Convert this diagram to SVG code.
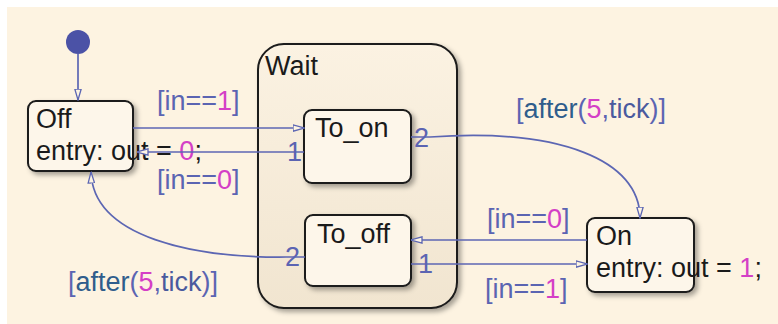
<svg xmlns="http://www.w3.org/2000/svg" width="778" height="324" viewBox="0 0 778 324">
  <defs>
    <filter id="sh" x="-20%" y="-20%" width="150%" height="150%">
      <feDropShadow dx="3" dy="3" stdDeviation="2.5" flood-color="#000" flood-opacity="0.35"/>
    </filter>
    <linearGradient id="waitg" x1="0" y1="0" x2="0" y2="1">
      <stop offset="0" stop-color="#fbf2e2"/>
      <stop offset="1" stop-color="#f1e5d0"/>
    </linearGradient>
    <marker id="ah" viewBox="0 0 12 8" refX="11.5" refY="4" markerWidth="12" markerHeight="8" markerUnits="userSpaceOnUse" orient="auto">
      <path d="M0.5,0.8 L11.5,4 L0.5,7.2 Z" fill="#fdf4e3" stroke="#5c66b3" stroke-width="1.3"/>
    </marker>
    <style>
      text { font-family: "Liberation Sans", Arial, sans-serif; font-size: 27px; }
      .st { fill: #1a1a1a; }
      .box { fill: #fdf6ea; stroke: #1a1a1a; stroke-width: 2; filter: url(#sh); }
      .wait { fill: url(#waitg); stroke: #1a1a1a; stroke-width: 2; filter: url(#sh); }
      .ln { fill: none; stroke: #5c66b3; stroke-width: 1.7; }
      .lb { fill: #5b64b2; }
      .kw { fill: #2f5d8c; }
      .tk { fill: #4a5a9e; }
      .num { fill: #d43fc6; }
    </style>
  </defs>
  <rect x="7" y="7" width="771" height="317" fill="#fdf3e1"/>

  <g id="Wait">
    <rect class="wait" x="258" y="44" width="199" height="264" rx="26" ry="26"/>
    <text class="st" x="265" y="75">Wait</text>
  </g>
  <g id="Off">
    <rect class="box" x="28" y="101" width="105" height="70" rx="8" ry="8"/>
    <text class="st" x="36" y="128">Off</text>
    <text class="st" x="36" y="160">entry: out = <tspan class="num">0</tspan>;</text>
  </g>
  <g id="To_on">
    <rect class="box" x="304" y="110" width="107" height="73" rx="8" ry="8"/>
    <text class="st" x="315" y="137">To_on</text>
  </g>
  <g id="To_off">
    <rect class="box" x="305" y="215" width="106" height="71" rx="8" ry="8"/>
    <text class="st" x="317" y="243">To_off</text>
  </g>
  <g id="On">
    <rect class="box" x="587" y="218" width="107" height="74" rx="8" ry="8"/>
    <text class="st" x="596" y="245">On</text>
    <text class="st" x="596" y="277">entry: out = <tspan class="num">1</tspan>;</text>
  </g>
  <g id="init">
    <circle cx="78" cy="42" r="12" fill="#4b52a6"/>
  </g>

  <g id="connectors">
    <path class="ln" d="M78,54 L78,100" marker-end="url(#ah)"/>
    <path class="ln" d="M133,128 L304,128" marker-end="url(#ah)"/>
    <path class="ln" d="M304,152 L137,152" marker-end="url(#ah)"/>
    <path class="ln" d="M411,137 L430,137 C560,128 640,160 640,218" marker-end="url(#ah)"/>
    <path class="ln" d="M587,240 L411,240" marker-end="url(#ah)"/>
    <path class="ln" d="M411,264 L587,264" marker-end="url(#ah)"/>
    <path class="ln" d="M305,257 L286,257 C195,258 93,238 91,172" marker-end="url(#ah)"/>

    <text class="lb" x="287" y="161">1</text>
    <text class="lb" x="414" y="147">2</text>
    <text class="lb" x="418" y="273">1</text>
    <text class="lb" x="285" y="266">2</text>

    <text class="lb" x="157" y="110">[in==<tspan class="num">1</tspan>]</text>
    <text class="lb" x="157" y="189">[in==<tspan class="num">0</tspan>]</text>
    <text class="lb" x="516" y="118">[<tspan class="kw">after</tspan>(<tspan class="num">5</tspan>,<tspan class="tk">tick</tspan>)]</text>
    <text class="lb" x="68" y="291">[<tspan class="kw">after</tspan>(<tspan class="num">5</tspan>,<tspan class="tk">tick</tspan>)]</text>
    <text class="lb" x="487" y="228">[in==<tspan class="num">0</tspan>]</text>
    <text class="lb" x="485" y="298">[in==<tspan class="num">1</tspan>]</text>
  </g>
</svg>
